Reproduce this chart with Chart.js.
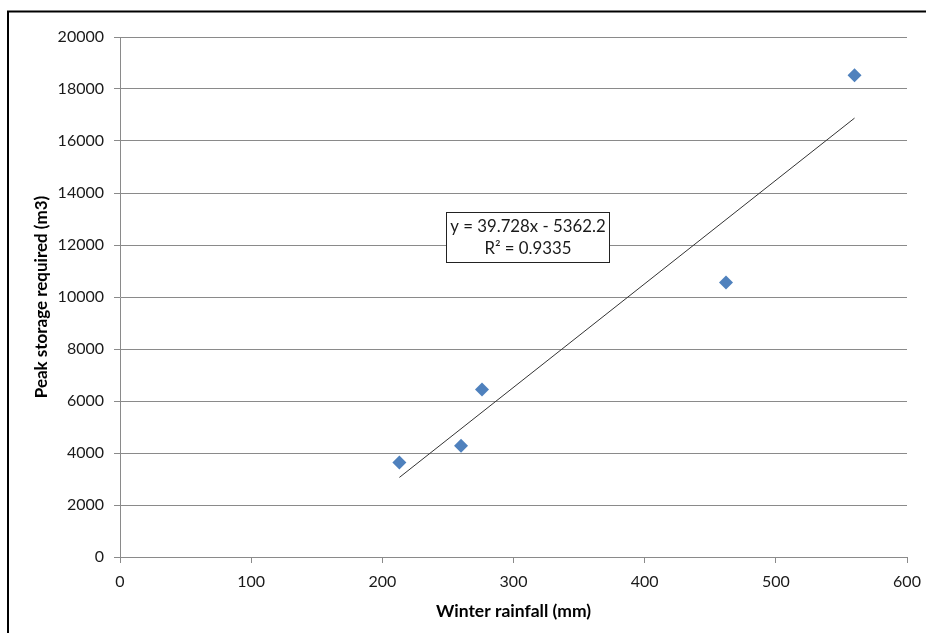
<!DOCTYPE html>
<html>
<head>
<meta charset="utf-8">
<script src="https://cdn.jsdelivr.net/npm/chart.js@4"></script>
<style>
  html, body { margin: 0; padding: 0; background: #ffffff; }
  #wrap { width: 926px; height: 633px; }
</style>
</head>
<body>
<div id="wrap"><canvas id="c" width="926" height="633"></canvas></div>
<script>
// ---- data ----
const rainfall = [213, 260, 276, 462, 560];          // Winter rainfall (mm)
const storage  = [3630, 4280, 6440, 10560, 18530];  // Peak storage required (m3)
const trendX = [213, 560];
const trendY = [3060, 16880];
const xTicks = [0, 100, 200, 300, 400, 500, 600];
const yTicks = [0, 2000, 4000, 6000, 8000, 10000, 12000, 14000, 16000, 18000, 20000];
const equationLines = ['y = 39.728x - 5362.2', 'R\u00B2 = 0.9335'];
const equationAnchor = { x: 311, y: 12300 };
const xTitle = 'Winter rainfall (mm)';
const yTitle = 'Peak storage required (m3)';

const FONT = 'Lato, "Open Sans", sans-serif';
const GRID = '#8a8a8a';
const TXT = '#1a1a1a';

const points = rainfall.map((x, i) => ({ x: x, y: storage[i] }));
const trend = trendX.map((x, i) => ({ x: x, y: trendY[i] }));

const frame = {
  id: 'frame',
  afterDraw(chart) {
    const ctx = chart.ctx;
    ctx.save();
    ctx.strokeStyle = '#000';
    ctx.lineWidth = 2;
    ctx.beginPath();
    ctx.moveTo(926, 11.5);
    ctx.lineTo(8, 11.5);
    ctx.lineTo(8, 633);
    ctx.stroke();
    ctx.restore();
  }
};

const eqBox = {
  id: 'eqBox',
  afterDatasetsDraw(chart) {
    const ctx = chart.ctx;
    const cx = chart.scales.x.getPixelForValue(equationAnchor.x);
    const cy = chart.scales.y.getPixelForValue(equationAnchor.y);
    const w = 163, h = 50;
    ctx.save();
    ctx.fillStyle = '#fff';
    ctx.fillRect(Math.round(cx - w / 2) + 0.5, Math.round(cy - h / 2) + 0.5, w, h);
    ctx.strokeStyle = '#222';
    ctx.lineWidth = 1;
    ctx.strokeRect(Math.round(cx - w / 2) + 0.5, Math.round(cy - h / 2) + 0.5, w, h);
    ctx.fillStyle = TXT;
    ctx.font = '16.8px ' + FONT;
    ctx.textAlign = 'center';
    ctx.textBaseline = 'middle';
    ctx.fillText(equationLines[0], cx, cy - 10.5);
    ctx.fillText(equationLines[1], cx, cy + 11);
    ctx.restore();
  }
};

new Chart(document.getElementById('c'), {
  type: 'scatter',
  data: {
    datasets: [
      {
        label: 'Peak storage',
        data: points,
        pointStyle: 'rectRot',
        pointRadius: 7,
        pointHoverRadius: 7,
        backgroundColor: '#4F81BD',
        borderColor: '#4F81BD',
        borderWidth: 0,
        order: 1
      },
      {
        label: 'Linear trend',
        type: 'line',
        data: trend,
        borderColor: '#333333',
        borderWidth: 1,
        pointRadius: 0,
        fill: false,
        order: 2
      }
    ]
  },
  options: {
    responsive: false,
    animation: false,
    layout: { padding: { left: 0, top: 37, right: 19, bottom: 0 } },
    plugins: {
      legend: { display: false },
      tooltip: { enabled: false }
    },
    scales: {
      x: {
        type: 'linear',
        min: 0, max: 600,
        afterBuildTicks(axis) { axis.ticks = xTicks.map(v => ({ value: v })); },
        afterFit(axis) { axis.height = 76; axis.paddingLeft = 0; axis.paddingRight = 0; },
        grid: { drawOnChartArea: false, drawTicks: true, tickLength: 6, color: GRID, lineWidth: 1 },
        border: { display: true, color: GRID, width: 1 },
        ticks: { color: TXT, font: { family: FONT, size: 16 }, padding: 9, maxRotation: 0 },
        title: {
          display: true, text: xTitle, color: '#000',
          font: { family: FONT, size: 17.5, weight: 'bold' },
          padding: { top: 0, bottom: 11 }
        }
      },
      y: {
        type: 'linear',
        min: 0, max: 20000,
        afterBuildTicks(axis) { axis.ticks = yTicks.map(v => ({ value: v })); },
        afterFit(axis) { axis.width = 120; axis.paddingTop = 0; axis.paddingBottom = 0; },
        grid: { drawOnChartArea: true, drawTicks: true, tickLength: 6, color: GRID, lineWidth: 1 },
        border: { display: true, color: GRID, width: 1 },
        ticks: { color: TXT, font: { family: FONT, size: 16 }, padding: 10, callback: v => String(v) },
        title: {
          display: true, text: yTitle, color: '#000',
          font: { family: FONT, size: 17, weight: 'bold' },
          padding: { top: 31, bottom: 0 }
        }
      }
    }
  },
  plugins: [frame, eqBox]
});
</script>
</body>
</html>
